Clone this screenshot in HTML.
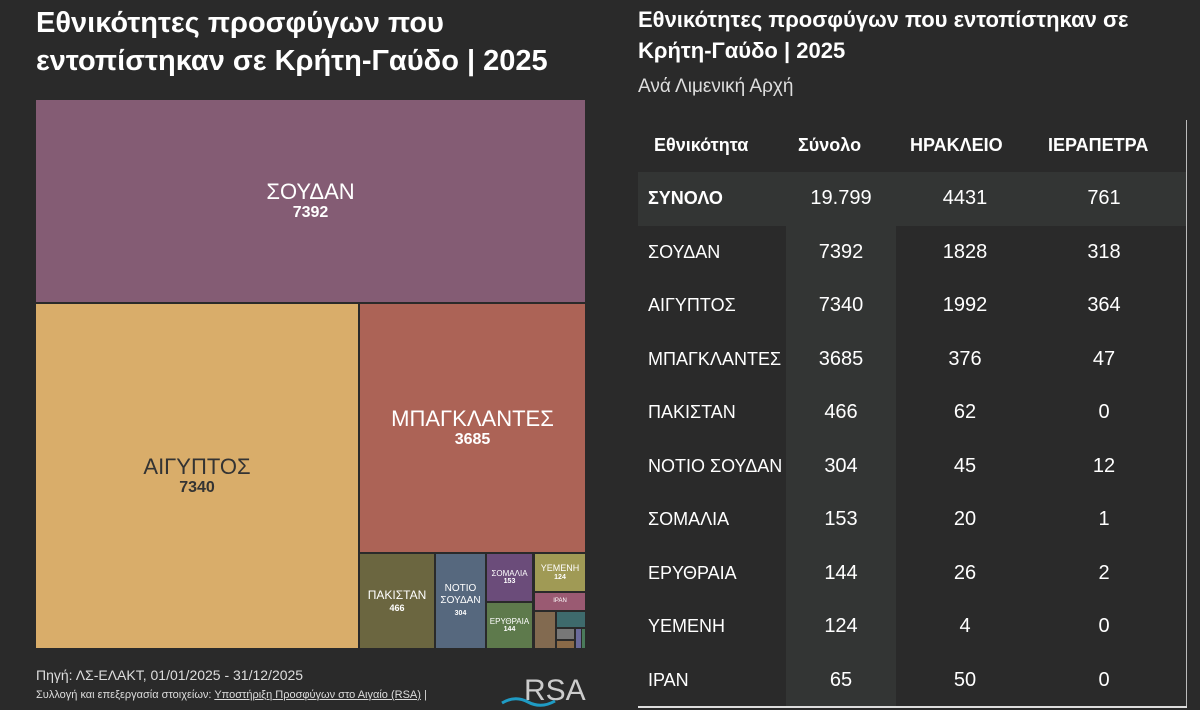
<!DOCTYPE html>
<html><head><meta charset="utf-8"><style>
body{margin:0;width:1200px;height:710px;background:#2a2a2a;overflow:hidden;position:relative;font-family:"Liberation Sans Narrow","Liberation Sans",sans-serif;color:#fff}
.a{position:absolute}
.b{position:absolute;display:flex;flex-direction:column;align-items:center;justify-content:center;text-align:center;color:#fff;line-height:1.15}
.t{font-size:29px;font-weight:bold;line-height:38px}
.row{position:absolute;left:638px;width:548px;height:53.5px;font-size:20px}
.row div{position:absolute;top:0;height:100%;display:flex;align-items:center}
.row div.n{font-size:18px}
</style></head><body>
<div class="a t" style="left:36px;top:4px">Εθνικότητες προσφύγων που<br>εντοπίστηκαν σε Κρήτη-Γαύδο | 2025</div>

<div class="b" style="left:36px;top:100px;width:549px;height:202px;background:#845c74;font-size:22px">ΣΟΥΔΑΝ<b style="font-size:16px">7392</b></div>
<div class="b" style="left:36px;top:304px;width:322px;height:344px;background:#d9ad6a;color:#333;font-size:22px">ΑΙΓΥΠΤΟΣ<b style="font-size:16px">7340</b></div>
<div class="b" style="left:360px;top:304px;width:225px;height:248px;background:#ac6356;font-size:22px">ΜΠΑΓΚΛΑΝΤΕΣ<b style="font-size:16px">3685</b></div>
<div class="b" style="left:360px;top:554px;width:74px;height:94px;background:#6b6640;font-size:12px">ΠΑΚΙΣΤΑΝ<b style="font-size:9px">466</b></div>
<div class="b" style="left:436px;top:554px;width:49px;height:94px;background:#56687e;font-size:10px">ΝΟΤΙΟ<br>ΣΟΥΔΑΝ<b style="font-size:7px;margin-top:4px">304</b></div>
<div class="b" style="left:487px;top:554px;width:45px;height:47px;background:#6b4c7a;font-size:8px">ΣΟΜΑΛΙΑ<b style="font-size:7px">153</b></div>
<div class="b" style="left:487px;top:603px;width:45px;height:45px;background:#5e7a4c;font-size:8px">ΕΡΥΘΡΑΙΑ<b style="font-size:7px">144</b></div>
<div class="b" style="left:535px;top:554px;width:50px;height:37px;background:#a09a55;font-size:9px">ΥΕΜΕΝΗ<b style="font-size:7px">124</b></div>
<div class="b" style="left:535px;top:593px;width:50px;height:17px;background:#9a5a72;font-size:6px">ΙΡΑΝ</div>
<div class="a" style="left:535px;top:612px;width:20px;height:36px;background:#826a50"></div>
<div class="a" style="left:557px;top:612px;width:28px;height:15px;background:#3e6a6c"></div>
<div class="a" style="left:557px;top:629px;width:17px;height:10px;background:#777"></div>
<div class="a" style="left:557px;top:641px;width:17px;height:7px;background:#8a6a48"></div>
<div class="a" style="left:576px;top:629px;width:5px;height:19px;background:#6a6a9a"></div>
<div class="a" style="left:582px;top:629px;width:3px;height:19px;background:#4a7a5a"></div>

<div class="a" style="left:36px;top:667px;font-size:14px;color:#ddd">Πηγή: ΛΣ-ΕΛΑΚΤ, 01/01/2025 - 31/12/2025</div>
<div class="a" style="left:36px;top:689px;font-size:11px;color:#ddd">Συλλογή και επεξεργασία στοιχείων: <u>Υποστήριξη Προσφύγων στο Αιγαίο (RSA)</u> |</div>
<div class="a" style="left:524px;top:674px;font-size:30px;color:#ccc;font-family:'Liberation Sans',sans-serif">RSA</div>
<svg class="a" style="left:500px;top:695px" width="60" height="14"><path d="M2 8 Q15 0 28 7 T55 6" stroke="#1f9bc4" stroke-width="3" fill="none"/></svg>

<div class="a" style="left:638px;top:4px;font-size:22px;font-weight:bold;line-height:31px">Εθνικότητες προσφύγων που εντοπίστηκαν σε<br>Κρήτη-Γαύδο | 2025</div>
<div class="a" style="left:638px;top:76px;font-size:19px;color:#ddd">Ανά Λιμενική Αρχή</div>

<div class="a" style="left:786px;top:226px;width:110px;height:481px;background:#333534"></div>
<div class="a" style="left:638px;top:172px;width:548px;height:54px;background:#333534"></div>
<div class="a" style="left:1186px;top:120px;width:1px;height:588px;background:#bbb"></div>
<div class="a" style="left:638px;top:706px;width:549px;height:2px;background:#ddd"></div>

<div class="row" style="top:119px;font-weight:bold;font-size:18px">
<div style="left:16px">Εθνικότητα</div><div style="left:160px">Σύνολο</div><div style="left:272px">ΗΡΑΚΛΕΙΟ</div><div style="left:410px">ΙΕΡΑΠΕΤΡΑ</div></div>
<div id="rows"></div>
<script>
var d=[["ΣΥΝΟΛΟ","19.799","4431","761"],["ΣΟΥΔΑΝ","7392","1828","318"],["ΑΙΓΥΠΤΟΣ","7340","1992","364"],["ΜΠΑΓΚΛΑΝΤΕΣ","3685","376","47"],["ΠΑΚΙΣΤΑΝ","466","62","0"],["ΝΟΤΙΟ ΣΟΥΔΑΝ","304","45","12"],["ΣΟΜΑΛΙΑ","153","20","1"],["ΕΡΥΘΡΑΙΑ","144","26","2"],["ΥΕΜΕΝΗ","124","4","0"],["ΙΡΑΝ","65","50","0"]];
var h="";d.forEach(function(r,i){h+='<div class="row" style="top:'+(172+i*53.5)+'px;'+(i==0?'font-weight:bold':'')+'"><div class="n" style="left:10px">'+r[0]+'</div><div style="left:148px;width:110px;justify-content:center;font-weight:normal">'+r[1]+'</div><div style="left:258px;width:138px;justify-content:center;font-weight:normal">'+r[2]+'</div><div style="left:396px;width:140px;justify-content:center;font-weight:normal">'+r[3]+'</div></div>';});
document.getElementById("rows").innerHTML=h;
</script>
</body></html>
